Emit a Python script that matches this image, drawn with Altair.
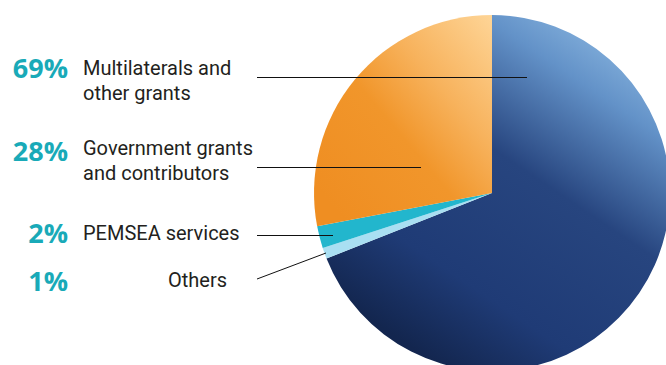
import altair as alt
import pandas as pd

# ---- data ----
categories = ["Multilaterals and other grants", "Others", "PEMSEA services",
              "Government grants and contributors"]
values = [69, 1, 2, 28]

# label table (top to bottom on the left)
pct_labels = ["69%", "28%", "2%", "1%"]
text_labels = [["Multilaterals and", "other grants"],
               ["Government grants", "and contributors"],
               ["PEMSEA services"],
               ["Others"]]

# ---- layout (pixels) ----
CX, CY, R = 492, 193, 178
label_y = [75, 155, 240, 287]
pct_y = [78, 161, 243, 291]
text_x = [83, 83, 83, 227]
text_align = ["left", "left", "left", "right"]
leader = [(257, 77.5, 527, 77.5), (257, 167.5, 421, 167.5), (257, 235.5, 333, 235.5),
          (257, 279, 326, 253)]

pie_df = pd.DataFrame({"category": categories, "value": values, "order": range(len(values))})

base = alt.Chart(pie_df).transform_window(
    cum="sum(value)", sort=[alt.SortField("order")], frame=[None, 0]
).transform_joinaggregate(total="sum(value)").transform_calculate(
    t0="(datum.cum - datum.value) / datum.total * 2 * PI",
    t1="datum.cum / datum.total * 2 * PI",
)

fills = {
    "Multilaterals and other grants": alt.Gradient(
        gradient="linear", x1=1, y1=0, x2=0.35, y2=1,
        stops=[alt.GradientStop(color="#a3cdef", offset=0),
               alt.GradientStop(color="#6392c8", offset=0.25),
               alt.GradientStop(color="#27457f", offset=0.5),
               alt.GradientStop(color="#1f3b76", offset=0.8),
               alt.GradientStop(color="#13264f", offset=1)]),
    "Others": "#a9dff2",
    "PEMSEA services": "#22b6cd",
    "Government grants and contributors": alt.Gradient(
        gradient="linear", x1=1, y1=0, x2=0.1, y2=0.9,
        stops=[alt.GradientStop(color="#fed597", offset=0),
               alt.GradientStop(color="#f7b25c", offset=0.35),
               alt.GradientStop(color="#f1962b", offset=0.6),
               alt.GradientStop(color="#ef8e22", offset=1)]),
}

arcs = []
for cat in categories:
    arcs.append(
        base.transform_filter(alt.datum.category == cat)
        .mark_arc(radius=R, fill=fills[cat], stroke=None)
        .encode(
            theta=alt.Theta("t0:Q", scale=None),
            theta2=alt.Theta2("t1:Q"),
            x=alt.value(CX),
            y=alt.value(CY),
        )
    )

lines = []
for (x1, y1, x2, y2) in leader:
    lines.append(
        alt.Chart(pd.DataFrame({"a": [0]})).mark_rule(color="#111111", strokeWidth=1).encode(
            x=alt.value(x1), y=alt.value(y1), x2=alt.value(x2), y2=alt.value(y2)
        )
    )

texts = []
for i in range(len(pct_labels)):
    texts.append(
        alt.Chart(pd.DataFrame({"t": [pct_labels[i]]})).mark_text(
            align="right", baseline="alphabetic", font="Open Sans", fontWeight="bold",
            fontSize=27, color="#19aab8"
        ).encode(text="t:N", x=alt.value(68), y=alt.value(pct_y[i]))
    )
    texts.append(
        alt.Chart(pd.DataFrame({"t": [text_labels[i]]})).mark_text(
            align=text_align[i], baseline="alphabetic", font="Roboto",
            fontSize=20, lineHeight=25, color="#231f20"
        ).encode(text="t", x=alt.value(text_x[i]), y=alt.value(label_y[i]))
    )

chart = alt.layer(*arcs, *lines, *texts).properties(
    width=666, height=365, autosize=alt.AutoSizeParams(type="none"), padding=0
).configure_view(stroke=None)

chart.save("out.html", embed_options={"renderer": "svg", "actions": False})
